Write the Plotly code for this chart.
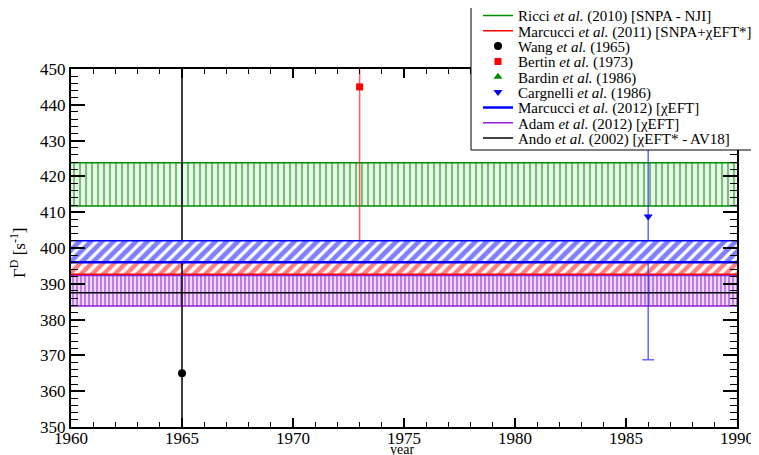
import plotly.graph_objects as go

# ---------------- data ----------------
band_years = [1960, 1990]

ricci_band = [411.7, 423.8]          # Ricci et al. (2010) [SNPA - NJI]
marcucci2011_band = [392.7, 396.0]   # Marcucci et al. (2011) [SNPA+chiEFT*]
marcucci2012_band = [396.0, 402.0]   # Marcucci et al. (2012) [chiEFT]
adam_band = [383.8, 392.3]           # Adam et al. (2012) [chiEFT]
ando_value = 387.5                   # Ando et al. (2002)

exp_names = ["Wang", "Bertin", "Bardin", "Cargnelli"]
exp_years = [1965, 1973, 1986, 1986]
exp_values = [365.0, 445.0, 470.0, 408.8]
exp_err_plus = [96.0, 60.0, 29.0, 40.0]
exp_err_minus = [96.0, 45.0, 29.0, 40.0]

legend_labels = [
    "Ricci <i>et al.</i> (2010) [SNPA - NJI]",
    "Marcucci <i>et al.</i> (2011) [SNPA+χEFT*]",
    "Wang <i>et al.</i> (1965)",
    "Bertin <i>et al.</i> (1973)",
    "Bardin <i>et al.</i> (1986)",
    "Cargnelli <i>et al.</i> (1986)",
    "Marcucci <i>et al.</i> (2012) [χEFT]",
    "Adam <i>et al.</i> (2012) [χEFT]",
    "Ando <i>et al.</i> (2002) [χEFT* - AV18]",
]

x_ticks = [1960, 1965, 1970, 1975, 1980, 1985, 1990]
y_ticks = [350, 360, 370, 380, 390, 400, 410, 420, 430, 440, 450]

# ---------------- style ----------------
FONT = "Times New Roman, Liberation Serif, Times, serif"
GREEN = "rgb(0,140,0)"
RED = "rgb(255,0,0)"
BLUE = "rgb(0,0,255)"
PURPLE = "rgb(150,30,210)"

legend_ids = ["legend", "legend2", "legend3", "legend4", "legend5",
              "legend6", "legend7", "legend8", "legend9"]

fig = go.Figure()


def add_band(lo_hi, color, shape, size, solidity, bg, legend_idx, lw_lo=1.5, lw_hi=1.5):
    fig.add_trace(go.Scatter(
        x=band_years, y=[lo_hi[0]] * 2, mode="lines",
        line=dict(color=color, width=lw_lo),
        name=legend_labels[legend_idx], legend=legend_ids[legend_idx],
        showlegend=True, hoverinfo="skip"))
    fig.add_trace(go.Scatter(
        x=band_years, y=[lo_hi[1]] * 2, mode="lines",
        line=dict(color=color, width=lw_hi),
        fill="tonexty", fillcolor=bg,
        fillpattern=dict(shape=shape, fgcolor=color, bgcolor=bg,
                         size=size, solidity=solidity, fillmode="overlay"),
        showlegend=False, hoverinfo="skip"))


add_band(ricci_band, GREEN, "|", 6, 0.35, "rgba(0,150,0,0.08)", 0)
add_band(adam_band, PURPLE, "|", 4, 0.5, "rgba(180,100,230,0.25)", 7)
add_band(marcucci2011_band, RED, "/", 8, 0.55, "rgba(255,255,255,0.5)", 1)

fig.add_trace(go.Scatter(
    x=band_years, y=[ando_value] * 2, mode="lines",
    line=dict(color="black", width=1.5),
    name=legend_labels[8], legend=legend_ids[8], hoverinfo="skip"))

exp_style = [
    dict(color="black", symbol="circle", size=8, legend=2),
    dict(color=RED, symbol="square", size=7, legend=3),
    dict(color=GREEN, symbol="triangle-up", size=8, legend=4),
    dict(color=BLUE, symbol="triangle-down", size=8, legend=5),
]
bar_colors = ["black", "rgba(255,40,40,0.75)", "rgba(0,150,0,0.8)", "rgba(40,40,255,0.7)"]

for i in range(len(exp_names)):
    st = exp_style[i]
    fig.add_trace(go.Scatter(
        x=[exp_years[i]], y=[exp_values[i]], mode="markers",
        marker=dict(color=st["color"], symbol=st["symbol"], size=st["size"]),
        error_y=dict(type="data", symmetric=False,
                     array=[exp_err_plus[i]], arrayminus=[exp_err_minus[i]],
                     color=bar_colors[i], thickness=1.5, width=6),
        name=legend_labels[st["legend"]], legend=legend_ids[st["legend"]],
        hoverinfo="skip"))

add_band(marcucci2012_band, BLUE, "/", 8, 0.6, "white", 6, lw_lo=2.5, lw_hi=1.5)

# ---------------- layout ----------------
OFF = 8  # page body margin offset of the figure in the window
W, H = 759, 455
L, T = 71 - OFF, 69 - OFF
pw, ph = 666, 358
R = W - L - pw
B = H - T - ph


def py(p):
    """screen pixel y -> paper y"""
    return (T + ph - (p - OFF)) / ph


def px(p):
    """screen pixel x -> paper x"""
    return (p - OFF - L) / pw


layout_legends = {}
row0, step = 15.7, 15.33
for i, lid in enumerate(legend_ids):
    layout_legends[lid] = dict(
        x=px(478), xanchor="left",
        y=py(row0 + step * i), yanchor="middle",
        bgcolor="rgba(0,0,0,0)", borderwidth=0,
        font=dict(family=FONT, size=15, color="black"),
        itemwidth=30,
    )

fig.update_layout(
    width=W, height=H,
    margin=dict(l=L, r=R, t=T, b=B, autoexpand=False),
    paper_bgcolor="white", plot_bgcolor="white",
    font=dict(family=FONT, size=17, color="black"),
    showlegend=True,
    **layout_legends,
    xaxis=dict(
        range=[1960, 1990], tickvals=x_ticks, ticktext=[str(v) for v in x_ticks],
        ticks="inside", ticklen=9, tickwidth=1.5, tickcolor="black",
        minor=dict(dtick=1, ticks="inside", ticklen=5, tickwidth=1, tickcolor="black"),
        showline=True, linewidth=2, linecolor="black", mirror="allticks",
        showgrid=False, zeroline=False, ticklabelstandoff=-5,
        tickfont=dict(family=FONT, size=17, color="black"),
    ),
    yaxis=dict(
        range=[350, 450], tickvals=y_ticks, ticktext=[str(v) for v in y_ticks],
        ticks="inside", ticklen=14, tickwidth=1.5, tickcolor="black",
        minor=dict(dtick=2, ticks="inside", ticklen=7, tickwidth=1, tickcolor="black"),
        showline=True, linewidth=2, linecolor="black", mirror="allticks",
        showgrid=False, zeroline=False,
        tickfont=dict(family=FONT, size=17, color="black"),
    ),
    shapes=[dict(
        type="rect", xref="paper", yref="paper",
        x0=px(471), x1=px(800),
        y0=py(150), y1=py(-20),
        fillcolor="white", line=dict(color="black", width=1), layer="above",
    )],
    annotations=[
        dict(text="year", xref="paper", yref="paper",
             x=px(402), y=py(449.5),
             xanchor="center", yanchor="middle", showarrow=False,
             font=dict(family=FONT, size=14, color="black")),
        dict(text="Γ<sup>D</sup> [s<sup>-1</sup>]", xref="paper", yref="paper",
             x=px(18), y=py(253), textangle=-90,
             xanchor="center", yanchor="middle", showarrow=False,
             font=dict(family=FONT, size=17, color="black")),
    ],
)

fig.write_html("out.html")
